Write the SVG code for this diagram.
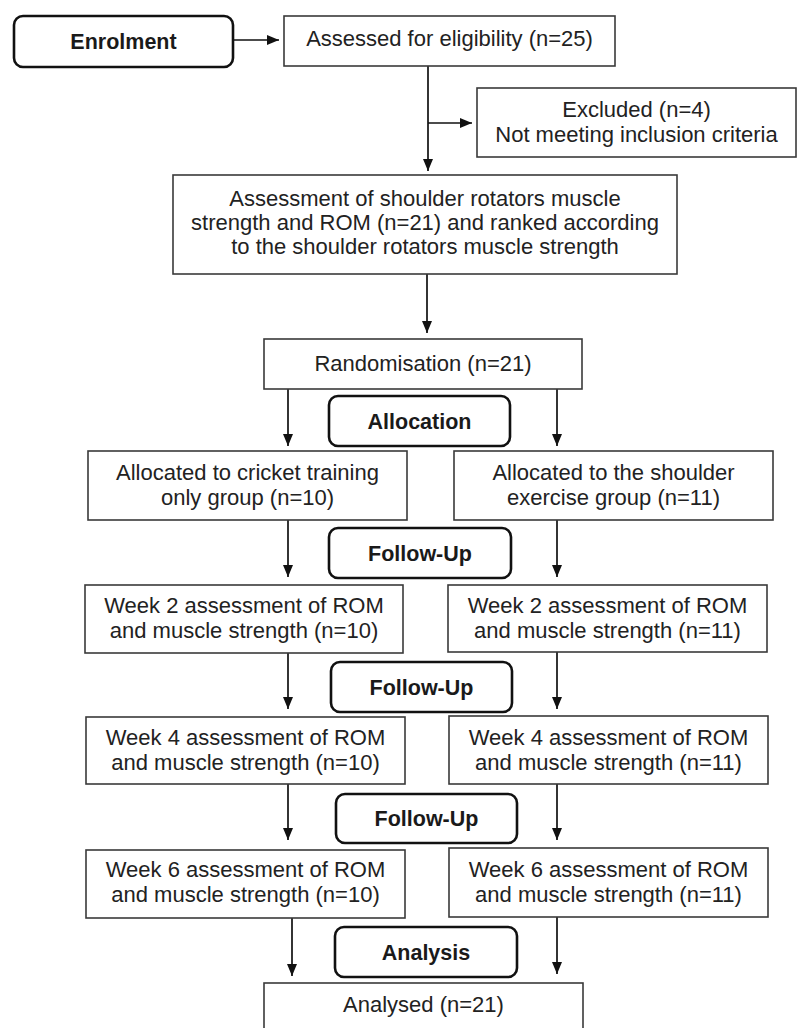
<svg xmlns="http://www.w3.org/2000/svg" width="801" height="1028" viewBox="0 0 801 1028">
<defs>
<style>
.box{fill:#fff;stroke:#3a3a3a;stroke-width:1.6}
.stage{fill:#fff;stroke:#111;stroke-width:2.6}
.t{font-family:"Liberation Sans",Arial,sans-serif;font-size:22px;fill:#222;text-anchor:middle}
.b{font-family:"Liberation Sans",Arial,sans-serif;font-size:21.5px;font-weight:bold;fill:#1a1a1a;text-anchor:middle}
.c{fill:none;stroke:#111;stroke-width:1.7}
</style>
<marker id="ah" markerUnits="userSpaceOnUse" markerWidth="12" markerHeight="10" refX="12" refY="5" orient="auto">
<path d="M0,0 L12,5 L0,10 Z" fill="#111"/>
</marker>
</defs>
<rect width="801" height="1028" fill="#fff"/>
<g id="connectors">
<path class="c" d="M233,40 H279" marker-end="url(#ah)"/>
<path class="c" d="M428,66 V171" marker-end="url(#ah)"/>
<path class="c" d="M428,123 H472" marker-end="url(#ah)"/>
<path class="c" d="M427,274 V333" marker-end="url(#ah)"/>
<path class="c" d="M288,389 V446" marker-end="url(#ah)"/>
<path class="c" d="M557,389 V446" marker-end="url(#ah)"/>
<path class="c" d="M288,520 V577" marker-end="url(#ah)"/>
<path class="c" d="M557,520 V577" marker-end="url(#ah)"/>
<path class="c" d="M288,653 V709" marker-end="url(#ah)"/>
<path class="c" d="M557,652 V709" marker-end="url(#ah)"/>
<path class="c" d="M288,784 V840" marker-end="url(#ah)"/>
<path class="c" d="M557,784 V840" marker-end="url(#ah)"/>
<path class="c" d="M292,918 V976" marker-end="url(#ah)"/>
<path class="c" d="M557,917 V974" marker-end="url(#ah)"/>
</g>
<g id="enrolment">
<rect class="stage" x="14" y="16" width="219" height="51" rx="9"/>
<text class="b" x="123.5" y="48.5">Enrolment</text>
</g>
<g id="assessed">
<rect class="box" x="284" y="16" width="331" height="50"/>
<text class="t" x="449.5" y="45.5">Assessed for eligibility (n=25)</text>
</g>
<g id="excluded">
<rect class="box" x="477" y="88" width="319" height="69"/>
<text class="t" x="636.5" y="117">Excluded (n=4)</text>
<text class="t" x="636.5" y="142">Not meeting inclusion criteria</text>
</g>
<g id="assessment">
<rect class="box" x="173" y="175" width="504" height="99"/>
<text class="t" x="425" y="206">Assessment of shoulder rotators muscle</text>
<text class="t" x="425" y="230">strength and ROM (n=21) and ranked according</text>
<text class="t" x="425" y="254">to the shoulder rotators muscle strength</text>
</g>
<g id="randomisation">
<rect class="box" x="264" y="339" width="318" height="50"/>
<text class="t" x="423" y="371">Randomisation (n=21)</text>
</g>
<g id="allocation">
<rect class="stage" x="329" y="396" width="181" height="50" rx="9"/>
<text class="b" x="419.5" y="428.5">Allocation</text>
</g>
<g id="alloc-left">
<rect class="box" x="88" y="451" width="319" height="69"/>
<text class="t" x="247.5" y="480">Allocated to cricket training</text>
<text class="t" x="247.5" y="505">only group (n=10)</text>
</g>
<g id="alloc-right">
<rect class="box" x="454" y="451" width="319" height="69"/>
<text class="t" x="613.5" y="480">Allocated to the shoulder</text>
<text class="t" x="613.5" y="505">exercise group (n=11)</text>
</g>
<g id="followup1">
<rect class="stage" x="329" y="528" width="182" height="50" rx="9"/>
<text class="b" x="420" y="560.5">Follow-Up</text>
</g>
<g id="week2-left">
<rect class="box" x="85" y="585" width="318" height="68"/>
<text class="t" x="244" y="613">Week 2 assessment of ROM</text>
<text class="t" x="244" y="638">and muscle strength (n=10)</text>
</g>
<g id="week2-right">
<rect class="box" x="448" y="585" width="319" height="67"/>
<text class="t" x="607.5" y="613">Week 2 assessment of ROM</text>
<text class="t" x="607.5" y="638">and muscle strength (n=11)</text>
</g>
<g id="followup2">
<rect class="stage" x="331" y="662" width="181" height="50" rx="9"/>
<text class="b" x="421.5" y="694.5">Follow-Up</text>
</g>
<g id="week4-left">
<rect class="box" x="86" y="717" width="319" height="67"/>
<text class="t" x="245.5" y="745">Week 4 assessment of ROM</text>
<text class="t" x="245.5" y="770">and muscle strength (n=10)</text>
</g>
<g id="week4-right">
<rect class="box" x="449" y="716" width="319" height="68"/>
<text class="t" x="608.5" y="745">Week 4 assessment of ROM</text>
<text class="t" x="608.5" y="770">and muscle strength (n=11)</text>
</g>
<g id="followup3">
<rect class="stage" x="336" y="794" width="181" height="49" rx="9"/>
<text class="b" x="426.5" y="826">Follow-Up</text>
</g>
<g id="week6-left">
<rect class="box" x="86" y="850" width="319" height="68"/>
<text class="t" x="245.5" y="877">Week 6 assessment of ROM</text>
<text class="t" x="245.5" y="902">and muscle strength (n=10)</text>
</g>
<g id="week6-right">
<rect class="box" x="449" y="848" width="319" height="69"/>
<text class="t" x="608.5" y="877">Week 6 assessment of ROM</text>
<text class="t" x="608.5" y="902">and muscle strength (n=11)</text>
</g>
<g id="analysis">
<rect class="stage" x="335" y="927" width="182" height="50" rx="9"/>
<text class="b" x="426" y="959.5">Analysis</text>
</g>
<g id="analysed">
<rect class="box" x="264" y="983" width="319" height="70"/>
<text class="t" x="423.5" y="1012">Analysed (n=21)</text>
</g>
</svg>
